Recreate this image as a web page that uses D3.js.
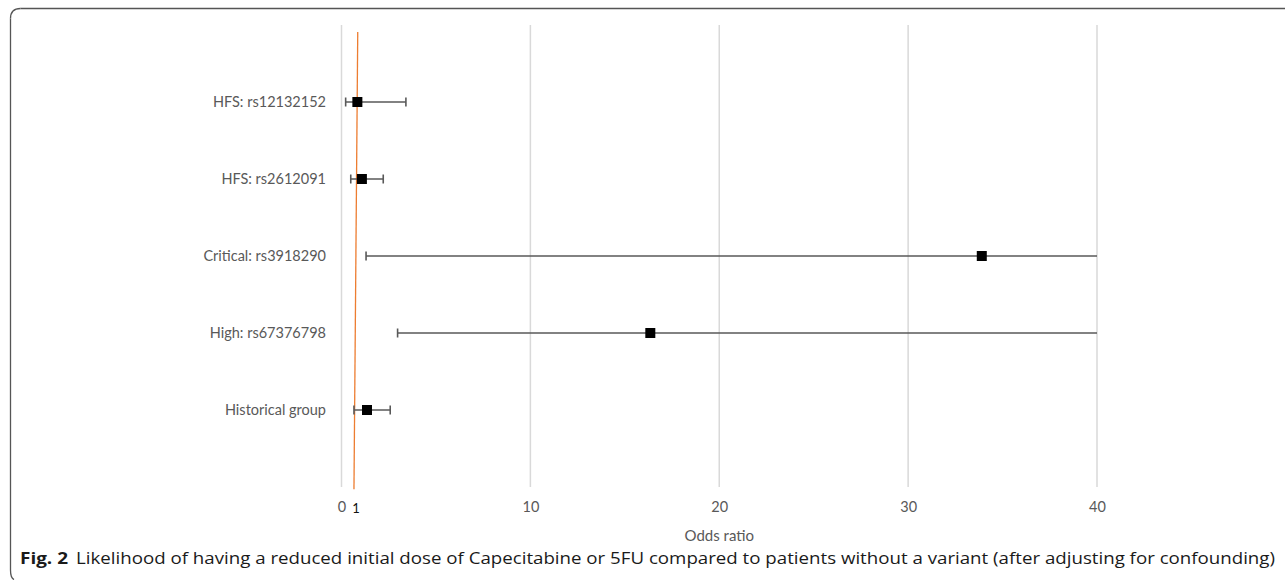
<!DOCTYPE html>
<html>
<head>
<meta charset="utf-8">
<script src="https://cdn.jsdelivr.net/npm/d3@7"></script>
<style>
  body { margin: 0; background: #fff; overflow: hidden; }
  svg { display: block; }
</style>
</head>
<body>
<div id="graph"></div>
<script>
// rows from top to bottom
const categories = ["HFS: rs12132152", "HFS: rs2612091", "Critical: rs3918290", "High: rs67376798", "Historical group"];
const oddsRatio = [0.84, 1.08, 33.9, 16.35, 1.35];
const lowerCI = [0.22, 0.49, 1.3, 2.97, 0.66];
const upperCI = [3.41, 2.21, 40, 40, 2.58];      // last two run past the axis end
const truncated = [false, false, true, true, false];
const xTicks = [0, 10, 20, 30, 40];
// reference line (drawn slightly slanted in the original)
const refX = [0.66, 0.86];
const refY = [-0.03, 5.91];

const w = 1285, h = 580;
const margin = { top: 25, right: 188, bottom: 93, left: 341.5 };
const innerWidth = w - margin.left - margin.right;
const innerHeight = h - margin.top - margin.bottom;

const svg = d3.select("#graph").append("svg")
    .attr("width", w)
    .attr("height", h);

// frame round the figure: top edge, left edge, rounded corners
const frame = svg.append("g")
    .attr("fill", "none")
    .attr("stroke", "#555")
    .attr("stroke-width", 1.3);
frame.append("line").attr("x1", 20.5).attr("y1", 8.5).attr("x2", w).attr("y2", 8.5);
frame.append("line").attr("x1", 10.5).attr("y1", 18.5).attr("x2", 10.5).attr("y2", 570);
frame.append("path").attr("d", "M10.5,18.5 Q10.5,8.5 20.5,8.5");
frame.append("path").attr("d", "M10.5,570 Q10.5,578 14,579.5");

const xScale = d3.scaleLinear().domain([0, 40]).range([0, innerWidth]);
const yScale = d3.scaleLinear().domain([0, 6]).range([innerHeight, 0]);
const rowPos = i => yScale(categories.length - i);

const g = svg.append("g")
    .attr("transform", `translate(${margin.left},${margin.top})`);

// vertical gridlines
g.selectAll(".grid")
    .data(xTicks)
    .enter().append("line")
    .attr("x1", d => xScale(d)).attr("x2", d => xScale(d))
    .attr("y1", 0).attr("y2", innerHeight)
    .attr("stroke", "#d9d9d9")
    .attr("stroke-width", 1.5);

// x axis tick labels
const xAxis = d3.axisBottom(xScale).tickValues(xTicks).tickSize(0).tickPadding(15);
const xAxisG = g.append("g")
    .attr("transform", `translate(0,${innerHeight})`)
    .call(xAxis);
xAxisG.select(".domain").remove();
xAxisG.selectAll("text")
    .attr("fill", "#595959")
    .style("font-family", "Lato, 'Liberation Sans', sans-serif")
    .style("font-size", "14.5px");

// extra "1" label under the reference line
g.append("text")
    .attr("x", xScale(refX[0]) + 2)
    .attr("y", innerHeight + 26)
    .attr("text-anchor", "middle")
    .attr("fill", "#111")
    .style("font-family", "Lato, 'Liberation Sans', sans-serif")
    .style("font-size", "13px")
    .text("1");

// axis title
g.append("text")
    .attr("x", innerWidth / 2)
    .attr("y", innerHeight + 54)
    .attr("text-anchor", "middle")
    .attr("fill", "#595959")
    .style("font-family", "Lato, 'Liberation Sans', sans-serif")
    .style("font-size", "15px")
    .text("Odds ratio");

// category labels
g.selectAll(".cat")
    .data(categories)
    .enter().append("text")
    .attr("x", -15.5)
    .attr("y", (d, i) => rowPos(i))
    .attr("dy", "0.35em")
    .attr("text-anchor", "end")
    .attr("fill", "#595959")
    .style("font-family", "Lato, 'Liberation Sans', sans-serif")
    .style("font-size", "14.5px")
    .text(d => d);

// reference line
const refLine = d3.line()
    .x(d => xScale(d[0]))
    .y(d => yScale(d[1]));
g.append("path")
    .attr("d", refLine(d3.zip(refX, refY)))
    .attr("stroke", "#ed7d31")
    .attr("stroke-width", 1.3)
    .attr("fill", "none");

// confidence intervals
const rows = categories.map((c, i) => ({
    name: c, or: oddsRatio[i], lo: lowerCI[i], hi: upperCI[i], cut: truncated[i], i: i
}));

const ci = g.selectAll(".ci")
    .data(rows)
    .enter().append("g");

ci.append("line")
    .attr("x1", d => xScale(d.lo)).attr("x2", d => xScale(d.hi))
    .attr("y1", d => rowPos(d.i)).attr("y2", d => rowPos(d.i))
    .attr("stroke", "#595959")
    .attr("stroke-width", 1.6);

ci.append("line")
    .attr("x1", d => xScale(d.lo)).attr("x2", d => xScale(d.lo))
    .attr("y1", d => rowPos(d.i) - 4.5).attr("y2", d => rowPos(d.i) + 4.5)
    .attr("stroke", "#595959")
    .attr("stroke-width", 1.6);

ci.filter(d => !d.cut).append("line")
    .attr("x1", d => xScale(d.hi)).attr("x2", d => xScale(d.hi))
    .attr("y1", d => rowPos(d.i) - 4.5).attr("y2", d => rowPos(d.i) + 4.5)
    .attr("stroke", "#595959")
    .attr("stroke-width", 1.6);

// point estimates
ci.append("rect")
    .attr("x", d => xScale(d.or) - 5)
    .attr("y", d => rowPos(d.i) - 5)
    .attr("width", 10).attr("height", 10)
    .attr("fill", "#000");

// caption: bold figure number, then the description squeezed to the line
const capFont = "'Open Sans', 'Noto Sans', sans-serif";
svg.append("text")
    .attr("x", 20)
    .attr("y", 564)
    .attr("fill", "#1a1a1a")
    .style("font-family", capFont)
    .style("font-size", "16.5px")
    .style("font-weight", "bold")
    .attr("textLength", 48)
    .attr("lengthAdjust", "spacingAndGlyphs")
    .text("Fig. 2");
svg.append("text")
    .attr("x", 76)
    .attr("y", 564)
    .attr("fill", "#1a1a1a")
    .style("font-family", capFont)
    .style("font-size", "16.5px")
    .attr("textLength", 1199)
    .attr("lengthAdjust", "spacingAndGlyphs")
    .text("Likelihood of having a reduced initial dose of Capecitabine or 5FU compared to patients without a variant (after adjusting for confounding)");
</script>
</body>
</html>
